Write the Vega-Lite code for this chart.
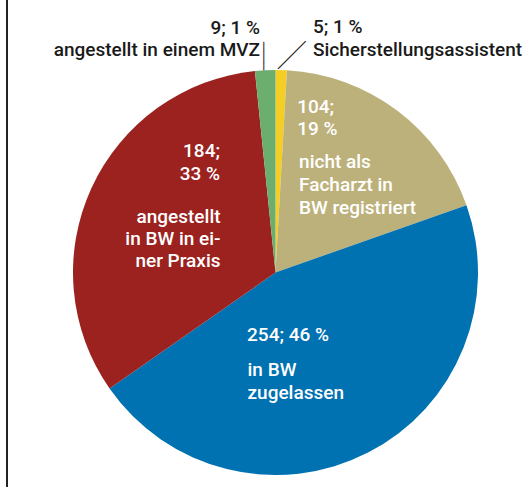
{
  "$schema": "https://vega.github.io/schema/vega-lite/v6.json",
  "padding": {"left": 6, "top": 0, "right": 0, "bottom": 0},
  "autosize": {"type": "pad"},
  "background": "white",
  "bounds": "flush",
  "spacing": 65,
  "datasets": {
    "slices": [
      {"cat": "Sicherstellungsassistent", "value": 5, "ord": 1, "lab1": "5; 1 %\nSicherstellungsassistent", "lab2": ""},
      {"cat": "nicht als Facharzt in BW registriert", "value": 104, "ord": 2, "lab1": "104;\n19 %", "lab2": "nicht als\nFacharzt in\nBW registriert"},
      {"cat": "in BW zugelassen", "value": 254, "ord": 3, "lab1": "254; 46 %", "lab2": "in BW\nzugelassen"},
      {"cat": "angestellt in BW in einer Praxis", "value": 184, "ord": 4, "lab1": "184;\n33 %", "lab2": "angestellt\nin BW in ei-\nner Praxis"},
      {"cat": "angestellt in einem MVZ", "value": 9, "ord": 5, "lab1": "9; 1 %\nangestellt in einem MVZ", "lab2": ""}
    ]
  },
  "config": {
    "view": {"stroke": null},
    "text": {"font": "Roboto", "fontWeight": 500, "fontSize": 19, "lineBreak": "\n"}
  },
  "hconcat": [
    {
      "width": 2,
      "height": 487,
      "data": {"name": "slices"},
      "mark": {"type": "text", "text": ""},
      "encoding": {},
      "view": {"fill": "#222222", "stroke": null}
    },
    {
      "spacing": 0,
      "bounds": "flush",
      "vconcat": [
        {
          "width": 405,
          "height": 70,
          "data": {"name": "slices"},
          "mark": {"type": "text", "text": ""},
          "encoding": {}
        },
        {
          "width": 405,
          "height": 405,
          "data": {"name": "slices"},
          "encoding": {
            "theta": {"field": "value", "type": "quantitative", "stack": true},
            "order": {"field": "ord", "type": "quantitative"},
            "detail": {"field": "cat", "type": "nominal"}
          },
          "layer": [
            {
              "mark": {"type": "arc"},
              "encoding": {
                "color": {
                  "field": "cat",
                  "type": "nominal",
                  "legend": null,
                  "scale": {
                    "domain": ["Sicherstellungsassistent", "nicht als Facharzt in BW registriert", "in BW zugelassen", "angestellt in BW in einer Praxis", "angestellt in einem MVZ"],
                    "range": ["#F4CE24", "#BDB17B", "#0071B1", "#9C2220", "#6BAE6E"]
                  }
                }
              }
            },
            {
              "mark": {"type": "text", "radius": 141, "dx": -63, "dy": -47, "align": "left", "baseline": "alphabetic", "lineHeight": 22, "color": "white"},
              "encoding": {"text": {"condition": {"test": "datum.ord === 2", "field": "lab1", "type": "nominal"}, "value": ""}}
            },
            {
              "mark": {"type": "text", "radius": 98, "dx": -35.3, "dy": -26.1, "align": "left", "baseline": "alphabetic", "lineHeight": 23, "color": "white"},
              "encoding": {"text": {"condition": {"test": "datum.ord === 2", "field": "lab2", "type": "nominal"}, "value": ""}}
            },
            {
              "mark": {"type": "text", "radius": 48, "dx": -50.4, "dy": 25.5, "align": "left", "baseline": "alphabetic", "lineHeight": 23, "color": "white"},
              "encoding": {"text": {"condition": {"test": "datum.ord === 3", "field": "lab1", "type": "nominal"}, "value": ""}}
            },
            {
              "mark": {"type": "text", "radius": 79, "dx": -64.1, "dy": 32.9, "align": "left", "baseline": "alphabetic", "lineHeight": 23.5, "color": "white"},
              "encoding": {"text": {"condition": {"test": "datum.ord === 3", "field": "lab2", "type": "nominal"}, "value": ""}}
            },
            {
              "mark": {"type": "text", "radius": 99, "dx": 34.5, "dy": -74.3, "align": "right", "baseline": "alphabetic", "lineHeight": 23, "color": "white"},
              "encoding": {"text": {"condition": {"test": "datum.ord === 4", "field": "lab1", "type": "nominal"}, "value": ""}}
            },
            {
              "mark": {"type": "text", "radius": 71, "dx": 9.6, "dy": -19.9, "align": "right", "baseline": "alphabetic", "lineHeight": 22, "color": "white"},
              "encoding": {"text": {"condition": {"test": "datum.ord === 4", "field": "lab2", "type": "nominal"}, "value": ""}}
            },
            {
              "mark": {"type": "text", "radius": 239.5, "dx": -3.3, "dy": 0.2, "align": "right", "baseline": "alphabetic", "lineHeight": 22.5, "color": "#1a1a1a"},
              "encoding": {"text": {"condition": {"test": "datum.ord === 5", "field": "lab1", "type": "nominal"}, "value": ""}}
            },
            {
              "mark": {"type": "text", "radius": 240, "dx": 30.7, "dy": 0.9, "align": "left", "baseline": "alphabetic", "lineHeight": 22.5, "color": "#1a1a1a"},
              "encoding": {"text": {"condition": {"test": "datum.ord === 1", "field": "lab1", "type": "nominal"}, "value": ""}}
            },
            {
              "mark": {"type": "text", "radius": 202.5, "dy": -1.7, "angle": 270, "align": "left", "baseline": "middle", "fontSize": 11.75, "fontWeight": "normal", "font": "DejaVu Sans", "color": "#1a1a1a"},
              "encoding": {"text": {"condition": {"test": "datum.ord === 5", "value": "────"}, "value": ""}}
            },
            {
              "mark": {"type": "text", "radius": 203, "dx": -1.8, "dy": -2.3, "angle": 315, "align": "left", "baseline": "middle", "fontSize": 13, "fontWeight": "normal", "font": "DejaVu Sans", "color": "#1a1a1a"},
              "encoding": {"text": {"condition": {"test": "datum.ord === 1", "value": "─────"}, "value": ""}}
            }
          ]
        }
      ]
    }
  ]
}
